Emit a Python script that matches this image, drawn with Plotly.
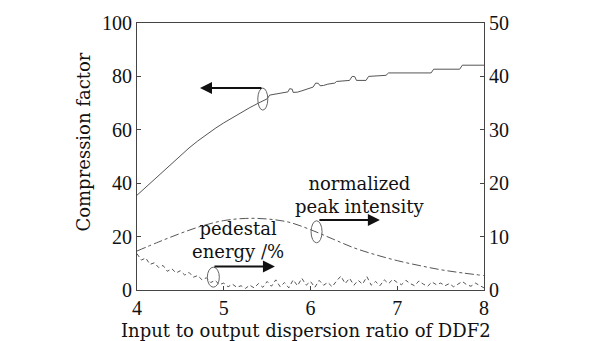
import plotly.graph_objects as go

# Compression factor versus input/output dispersion ratio (left axis)
ratio_cf = [4.0, 4.1, 4.2, 4.3, 4.4, 4.5, 4.6, 4.7, 4.8, 4.9, 5.0, 5.1, 5.2, 5.3,
            5.4, 5.5, 5.53, 5.6, 5.7, 5.74, 5.76, 5.79, 5.8, 5.85, 5.9, 5.95, 6.0,
            6.03, 6.06, 6.09, 6.11, 6.15, 6.2, 6.28, 6.3, 6.45, 6.48, 6.51, 6.53,
            6.64, 6.67, 6.87, 6.9, 7.39, 7.42, 7.72, 7.75, 8.0]
compression = [35.5, 38.5, 41.5, 44.5, 47.5, 50.4, 53.2, 55.8, 58.3, 60.5, 62.6,
               64.6, 66.5, 68.3, 70.0, 71.6, 73.0, 73.4, 74.0, 74.2, 75.4, 75.2,
               74.0, 74.1, 74.6, 75.2, 75.6, 76.0, 77.5, 77.4, 76.5, 76.6, 77.1,
               77.5, 78.1, 78.5, 80.0, 79.9, 78.5, 78.5, 80.0, 80.4, 81.3, 81.3,
               82.7, 82.7, 84.2, 84.2]

# Normalized peak intensity (right axis)
ratio_pk = [4.0, 4.25, 4.5, 4.75, 5.0, 5.25, 5.5, 5.75, 6.0, 6.25, 6.5, 6.75,
            7.0, 7.25, 7.5, 7.75, 8.0]
peak_intensity = [7.3, 9.0, 10.6, 12.0, 13.0, 13.4, 13.3, 12.7, 11.3, 9.6, 7.9,
                  6.6, 5.5, 4.6, 3.8, 3.2, 2.7]

# Pedestal energy in % (right axis)
ratio_pe = [4.00, 4.05, 4.10, 4.15, 4.20, 4.25, 4.30, 4.35, 4.40, 4.45, 4.50,
            4.55, 4.60, 4.65, 4.70, 4.75, 4.80, 4.85, 4.90, 4.95, 5.00, 5.05,
            5.10, 5.15, 5.20, 5.25, 5.30, 5.35, 5.40, 5.45, 5.50, 5.55, 5.60,
            5.65, 5.70, 5.75, 5.80, 5.85, 5.90, 5.95, 6.00, 6.05, 6.10, 6.15,
            6.20, 6.25, 6.30, 6.35, 6.40, 6.45, 6.50, 6.55, 6.60, 6.65, 6.70,
            6.75, 6.80, 6.85, 6.90, 6.95, 7.00, 7.05, 7.10, 7.15, 7.20, 7.25,
            7.30, 7.35, 7.40, 7.45, 7.50, 7.55, 7.60, 7.65, 7.70, 7.75, 7.80,
            7.85, 7.90, 7.95, 8.00]
pedestal = [6.8, 5.6, 6.0, 4.8, 5.1, 4.2, 4.6, 3.5, 4.0, 3.2, 3.6, 2.8, 3.3, 2.4,
            2.7, 1.9, 2.3, 1.4, 1.8, 1.0, 1.3, 0.6, 1.1, 0.5, 0.8, 0.3, 0.9, 0.4,
            1.2, 0.5, 1.6, 0.7, 1.9, 0.6, 1.4, 0.4, 1.9, 0.8, 2.2, 0.9, 1.6, 0.5,
            1.8, 0.9, 1.4, 0.6, 1.7, 2.6, 1.2, 2.2, 0.9, 1.8, 1.1, 2.5, 0.9, 1.6,
            0.8, 1.9, 1.2, 2.0, 1.4, 1.0, 1.8, 1.2, 0.8, 1.7, 1.1, 0.7, 1.5, 1.0,
            1.3, 0.8, 1.2, 0.6, 1.1, 1.6, 1.0, 0.7, 1.3, 0.9, 0.4]

x_ticks = [4, 5, 6, 7, 8]
left_ticks = [0, 20, 40, 60, 80, 100]
right_ticks = [0, 10, 20, 30, 40, 50]

TICK_FONT = "Liberation Serif"
TEXT_FONT = "DejaVu Serif"
CURVE = "#555555"
AXIS = "#444444"

fig = go.Figure()
fig.add_trace(go.Scatter(x=ratio_cf, y=compression, mode="lines",
                         line=dict(color=CURVE, width=1), yaxis="y"))
fig.add_trace(go.Scatter(x=ratio_pk, y=peak_intensity, mode="lines", line_shape="spline",
                         line=dict(color=CURVE, width=1, dash="dashdot"), yaxis="y2"))
fig.add_trace(go.Scatter(x=ratio_pe, y=pedestal, mode="lines",
                         line=dict(color=CURVE, width=1, dash="4px,3px"), yaxis="y2"))

axis_common = dict(showgrid=False, zeroline=False, showline=True, linecolor=AXIS,
                   linewidth=1, ticks="inside", ticklen=4, tickcolor=AXIS,
                   tickfont=dict(family=TICK_FONT, size=20, color="#111"))

fig.update_layout(
    width=611, height=341,
    margin=dict(l=137, r=127, t=16, b=51),
    paper_bgcolor="white", plot_bgcolor="white",
    showlegend=False,
    font=dict(family=TEXT_FONT, size=18, color="#111"),
    xaxis=dict(range=[4, 8], tickvals=x_ticks, mirror=True, **axis_common),
    yaxis=dict(range=[0, 100], tickvals=left_ticks, **axis_common),
    yaxis2=dict(range=[0, 50], tickvals=right_ticks, overlaying="y", side="right",
                **axis_common),
)

# Axis titles
fig.add_annotation(text="Input to output dispersion ratio of DDF2", xref="paper", yref="paper",
                   x=0.488, y=-0.195, xanchor="center", yanchor="bottom", showarrow=False,
                   borderpad=0, font=dict(family=TEXT_FONT, size=18))
fig.add_annotation(text="Compression factor", xref="paper", yref="paper",
                   x=-0.155, y=0.553, xanchor="center", yanchor="middle", textangle=-90,
                   showarrow=False, font=dict(family=TEXT_FONT, size=18))

# Curve markers (ellipses) anchored on the curves
def ellipse(x, y, yref, w, h):
    fig.add_shape(type="circle", xref="x", yref=yref, xsizemode="pixel", ysizemode="pixel",
                  xanchor=x, yanchor=y, x0=-w / 2, x1=w / 2, y0=-h / 2, y1=h / 2,
                  line=dict(color="#666", width=1))

ellipse(5.45, 71.5, "y", 10, 22)
ellipse(6.07, 10.9, "y2", 11, 22)
ellipse(4.88, 2.4, "y2", 12, 20)

# Pointer arrows
arrow = dict(showarrow=True, arrowhead=2, arrowsize=1.2, arrowwidth=2, arrowcolor="#111",
             axref="pixel", ayref="pixel", ay=0, text="")
fig.add_annotation(x=4.726, y=75.7, xref="x", yref="y", ax=63, **arrow)
fig.add_annotation(x=6.80, y=26.2, xref="x", yref="y", ax=-62, **arrow)
fig.add_annotation(x=5.59, y=8.8, xref="x", yref="y", ax=-62, **arrow)

# Curve labels
fig.add_annotation(text="normalized<br>peak intensity", x=6.57, y=35.4, xref="x", yref="y",
                   xanchor="center", showarrow=False, font=dict(family=TEXT_FONT, size=18))
fig.add_annotation(text="pedestal<br>energy /%", x=5.16, y=18.8, xref="x", yref="y",
                   xanchor="center", showarrow=False, font=dict(family=TEXT_FONT, size=18))

fig.write_html("out.html")
